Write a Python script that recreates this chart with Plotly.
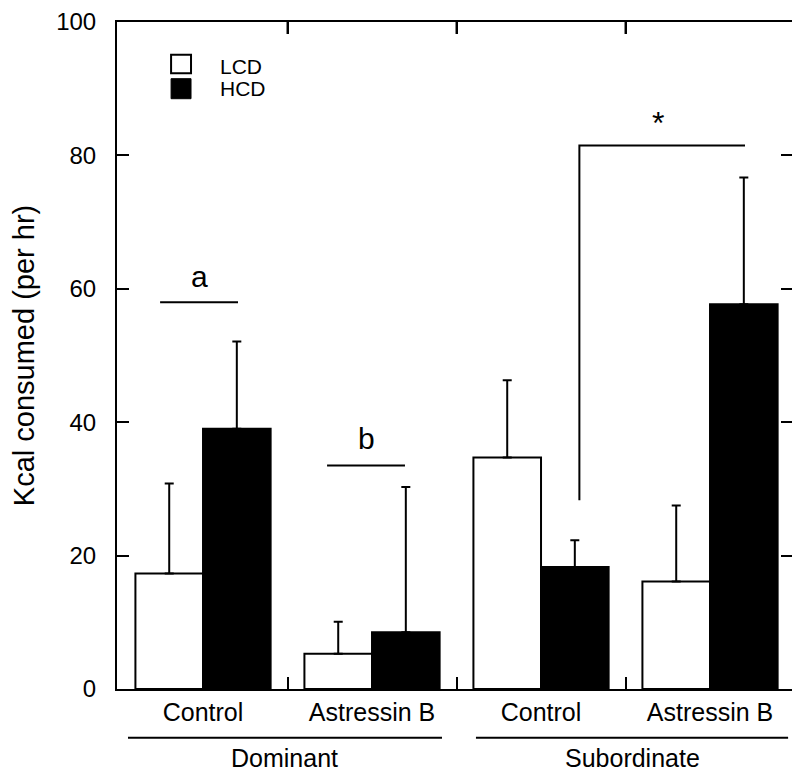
import plotly.graph_objects as go

# ---- data ----
conditions = ["Control", "Astressin B", "Control", "Astressin B"]
groups = ["Dominant", "Subordinate"]
series_names = ["LCD", "HCD"]
lcd_mean = [17.3, 5.3, 34.7, 16.1]
lcd_err = [13.5, 4.8, 11.6, 11.4]
hcd_mean = [39.0, 8.5, 18.3, 57.7]
hcd_err = [13.1, 21.8, 4.0, 19.0]
y_ticks = [0, 20, 40, 60, 80, 100]
sig_labels = ["a", "b", "*"]

xpos = list(range(len(conditions)))
sep_ticks = [i + 0.5 for i in xpos[:-1]]
FONT = "Liberation Sans, Arial, Helvetica, sans-serif"

fig = go.Figure()
fig.add_trace(go.Bar(
    x=xpos, y=lcd_mean, name=series_names[0],
    marker=dict(color="white", line=dict(color="black", width=2)),
    error_y=dict(type="data", symmetric=False, array=lcd_err,
                 arrayminus=[0] * len(lcd_err), color="black", thickness=2, width=4.5),
    showlegend=False,
))
fig.add_trace(go.Bar(
    x=xpos, y=hcd_mean, name=series_names[1],
    marker=dict(color="black", line=dict(color="black", width=2)),
    error_y=dict(type="data", symmetric=False, array=hcd_err,
                 arrayminus=[0] * len(hcd_err), color="black", thickness=2, width=4.5),
    showlegend=False,
))

shapes = []
annotations = []

# mirrored separator ticks along the top edge
for t in sep_ticks:
    shapes.append(dict(type="line", xref="x", yref="paper", x0=t, x1=t, y0=1, y1=1 - 12 / 667.3,
                       line=dict(color="black", width=2)))

# legend (manual, larger squares)
shapes.append(dict(type="rect", xref="x", yref="y", x0=-0.189, x1=-0.071, y0=92.3, y1=95.1,
                   line=dict(color="black", width=2), fillcolor="white"))
shapes.append(dict(type="rect", xref="x", yref="y", x0=-0.189, x1=-0.071, y0=88.5, y1=91.5,
                   line=dict(color="black", width=1), fillcolor="black"))
annotations.append(dict(xref="x", yref="y", x=0.089, y=93.4, text=series_names[0],
                        showarrow=False, xanchor="left", yanchor="middle",
                        font=dict(size=21, color="black", family=FONT)))
annotations.append(dict(xref="x", yref="y", x=0.089, y=90.1, text=series_names[1],
                        showarrow=False, xanchor="left", yanchor="middle",
                        font=dict(size=21, color="black", family=FONT)))

# significance marks
shapes.append(dict(type="line", xref="x", yref="y", x0=-0.254, x1=0.207, y0=58.0, y1=58.0,
                   line=dict(color="black", width=2)))
annotations.append(dict(xref="x", yref="y", x=-0.02, y=61.9, text=sig_labels[0], showarrow=False,
                        xanchor="center", yanchor="middle", font=dict(size=30, color="black", family=FONT)))
shapes.append(dict(type="line", xref="x", yref="y", x0=0.734, x1=1.195, y0=33.5, y1=33.5,
                   line=dict(color="black", width=2)))
annotations.append(dict(xref="x", yref="y", x=0.965, y=37.6, text=sig_labels[1], showarrow=False,
                        xanchor="center", yanchor="middle", font=dict(size=30, color="black", family=FONT)))
shapes.append(dict(type="path", xref="x", yref="y",
                   path="M 2.227,28.3 L 2.227,81.5 L 3.207,81.5",
                   line=dict(color="black", width=2)))
annotations.append(dict(xref="x", yref="y", x=2.692, y=84.9, text=sig_labels[2], showarrow=False,
                        xanchor="center", yanchor="middle", font=dict(size=32, color="black", family=FONT)))

# group labels under the axis
for (x0, x1, label) in [(-0.444, 1.414, groups[0]), (1.615, 3.462, groups[1])]:
    shapes.append(dict(type="line", xref="x", yref="paper", x0=x0, x1=x1, y0=-0.073, y1=-0.073,
                       line=dict(color="black", width=2)))
    annotations.append(dict(xref="x", yref="paper", x=(x0 + x1) / 2, y=-0.103, text=label,
                            showarrow=False, xanchor="center", yanchor="middle",
                            font=dict(size=25, color="black", family=FONT)))

# the page body adds an 8px offset; margins compensate for it
fig.update_layout(
    width=800, height=771,
    margin=dict(l=109, r=15, t=14, b=89.7, autoexpand=False),
    paper_bgcolor="white", plot_bgcolor="white",
    barmode="group", bargap=0.2, bargroupgap=0,
    font=dict(family=FONT, color="black"),
    shapes=shapes, annotations=annotations,
    xaxis=dict(
        range=[-0.509, 3.491], tickmode="array", tickvals=xpos, ticktext=conditions,
        ticks="", showline=True, linecolor="black", linewidth=2, mirror="ticks",
        showgrid=False, zeroline=False, tickfont=dict(size=25, family=FONT, color="black"),
        ticklabelstandoff=0,
        minor=dict(tickmode="array", tickvals=sep_ticks, ticks="inside",
                   ticklen=12, tickwidth=2, tickcolor="black", showgrid=False),
    ),
    yaxis=dict(
        range=[0, 100], tickmode="array", tickvals=y_ticks,
        ticks="inside", ticklen=12, tickwidth=2, tickcolor="black",
        showline=True, linecolor="black", linewidth=2, mirror="ticks",
        showgrid=False, zeroline=False, tickfont=dict(size=24, family=FONT, color="black"),
        ticklabelstandoff=14,
        title=dict(text="Kcal consumed (per hr)", font=dict(size=29, family=FONT, color="black"),
                   standoff=14),
    ),
)

fig.write_html("out.html")
